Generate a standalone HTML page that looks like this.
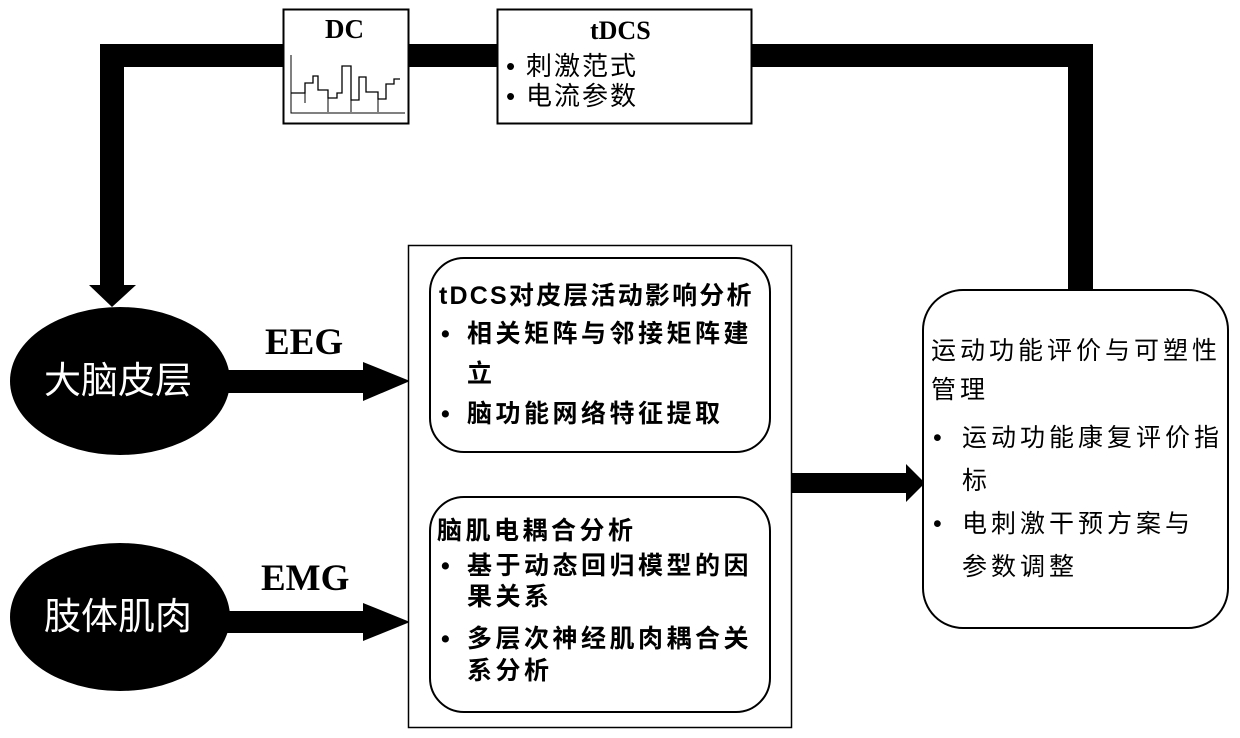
<!DOCTYPE html>
<html><head><meta charset="utf-8"><style>
html,body{margin:0;padding:0;background:#fff;}
body{width:1240px;height:738px;position:relative;overflow:hidden;font-family:"Liberation Sans","Noto Sans CJK SC",sans-serif;}
.t{position:absolute;white-space:nowrap;line-height:1;}
.b{font-weight:bold;}
.serif{font-family:"Liberation Serif","Noto Serif CJK SC",serif;font-weight:bold;}
</style></head><body>
<svg width="1240" height="738" style="position:absolute;left:0;top:0">
<rect x="100" y="44" width="993" height="23" fill="#000"/>
<rect x="100" y="44" width="24" height="242" fill="#000"/>
<polygon points="89,285 136,285 112,307" fill="#000"/>
<rect x="1068" y="44" width="25" height="250" fill="#000"/>
<polygon points="600,38 600,88 582,63" fill="#000"/>
<rect x="580" y="52" width="20" height="23" fill="#000"/>
<rect x="283.5" y="9.5" width="125" height="114" fill="#fff" stroke="#000" stroke-width="2"/>
<polyline points="291,55 291,113 405,113" fill="none" stroke="#000" stroke-width="1"/>
<polyline points="291,93 305,93 305,83 313,83 313,76 318,76 318,90 328,90 328,98 337,98 337,93 342,93 342,66 351,66 351,100 359,100 359,77 366,77 366,92 378,92 378,99 386,99 386,84 394,84 394,79 400,79" fill="none" stroke="#000" stroke-width="1.3"/>
<line x1="305" y1="93" x2="305" y2="103" stroke="#000"/><line x1="328" y1="90" x2="328" y2="112" stroke="#000"/>
<line x1="351" y1="100" x2="351" y2="112" stroke="#000"/><line x1="378" y1="99" x2="378" y2="112" stroke="#000"/>
<rect x="497.5" y="9.5" width="254" height="114" fill="#fff" stroke="#000" stroke-width="2"/>
<ellipse cx="120" cy="381" rx="110" ry="74" fill="#000"/>
<ellipse cx="120" cy="617" rx="110" ry="74" fill="#000"/>
<rect x="225" y="370" width="140" height="23" fill="#000"/>
<polygon points="363,362 363,401 410,381" fill="#000"/>
<rect x="225" y="611" width="140" height="22" fill="#000"/>
<polygon points="363,603 363,641 410,622" fill="#000"/>
<rect x="408.5" y="245.5" width="383" height="482" fill="#fff" stroke="#000" stroke-width="1.5"/>
<rect x="430" y="258" width="340" height="194" rx="34" fill="#fff" stroke="#000" stroke-width="2"/>
<rect x="430" y="497" width="340" height="215" rx="34" fill="#fff" stroke="#000" stroke-width="2"/>
<rect x="792" y="473" width="118" height="20" fill="#000"/>
<polygon points="906,464 906,502 925,483" fill="#000"/>
<rect x="923" y="290" width="305" height="338" rx="40" fill="#fff" stroke="#000" stroke-width="2"/>
</svg>
<div class="t serif" style="left:325px;top:16px;font-size:27px">DC</div>
<div class="t serif" style="left:590px;top:18px;font-size:26px">tDCS</div>
<div class="t" style="left:506px;top:53px;font-size:26px">•</div>
<div class="t" style="left:526px;top:53px;font-size:26px;letter-spacing:2px">刺激范式</div>
<div class="t" style="left:506px;top:83px;font-size:26px">•</div>
<div class="t" style="left:526px;top:83px;font-size:26px;letter-spacing:2px">电流参数</div>
<div class="t" style="left:44px;top:362px;font-size:37px;color:#fff">大脑皮层</div>
<div class="t" style="left:44px;top:598px;font-size:37px;color:#fff">肢体肌肉</div>
<div class="t serif" style="left:265px;top:324px;font-size:37px">EEG</div>
<div class="t serif" style="left:261px;top:560px;font-size:37px">EMG</div>
<div class="t b" style="left:439px;top:284px;font-size:25px;letter-spacing:2.2px">tDCS对皮层活动影响分析</div>
<div class="t b" style="left:441px;top:322px;font-size:25px">•</div>
<div class="t b" style="left:467px;top:322px;font-size:25px;letter-spacing:3.5px">相关矩阵与邻接矩阵建</div>
<div class="t b" style="left:467px;top:362px;font-size:25px">立</div>
<div class="t b" style="left:441px;top:402px;font-size:25px">•</div>
<div class="t b" style="left:467px;top:402px;font-size:25px;letter-spacing:3.5px">脑功能网络特征提取</div>
<div class="t b" style="left:437px;top:519px;font-size:25px;letter-spacing:3.5px">脑肌电耦合分析</div>
<div class="t b" style="left:441px;top:554px;font-size:25px">•</div>
<div class="t b" style="left:467px;top:554px;font-size:25px;letter-spacing:3.5px">基于动态回归模型的因</div>
<div class="t b" style="left:467px;top:585px;font-size:25px;letter-spacing:3.5px">果关系</div>
<div class="t b" style="left:441px;top:627px;font-size:25px">•</div>
<div class="t b" style="left:467px;top:627px;font-size:25px;letter-spacing:3.5px">多层次神经肌肉耦合关</div>
<div class="t b" style="left:467px;top:659px;font-size:25px;letter-spacing:3.5px">系分析</div>
<div class="t" style="left:931px;top:339px;font-size:25px;letter-spacing:4px">运动功能评价与可塑性</div>
<div class="t" style="left:931px;top:378px;font-size:25px;letter-spacing:4px">管理</div>
<div class="t" style="left:933px;top:426px;font-size:25px">•</div>
<div class="t" style="left:962px;top:426px;font-size:25px;letter-spacing:4px">运动功能康复评价指</div>
<div class="t" style="left:962px;top:469px;font-size:25px">标</div>
<div class="t" style="left:933px;top:512px;font-size:25px">•</div>
<div class="t" style="left:962px;top:512px;font-size:25px;letter-spacing:4px">电刺激干预方案与</div>
<div class="t" style="left:962px;top:555px;font-size:25px;letter-spacing:4px">参数调整</div>
</body></html>
